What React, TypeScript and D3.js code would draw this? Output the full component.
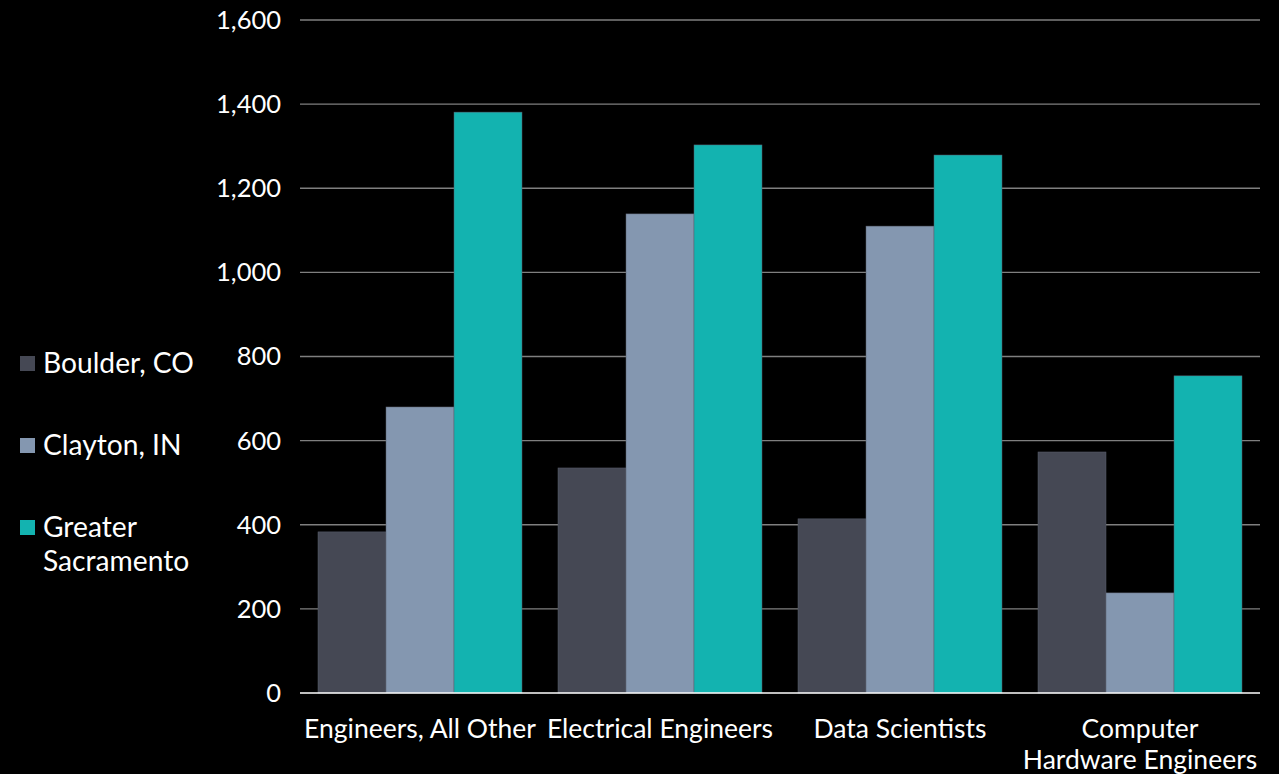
import React from "react";
import * as d3 from "d3";

const categories: string[][] = [
  ["Engineers, All Other"],
  ["Electrical Engineers"],
  ["Data Scientists"],
  ["Computer", "Hardware Engineers"],
];
const seriesNames: string[][] = [["Boulder, CO"], ["Clayton, IN"], ["Greater", "Sacramento"]];
const boulder = [383, 535, 414, 573];
const clayton = [680, 1139, 1110, 238];
const sacramento = [1381, 1303, 1279, 754];
const yTicks = [0, 200, 400, 600, 800, 1000, 1200, 1400, 1600];
const colors = ["#454854", "#8497b0", "#13b3b0"];

const W = 1279;
const H = 774;
const left = 300;
const right = 1260;
const top = 20;
const bottom = 693;
const font = "Lato, 'Open Sans', sans-serif";

export default function App() {
  const series = [boulder, clayton, sacramento];
  const keys = categories.map((c) => c.join(" "));
  const x = d3.scaleBand<string>().domain(keys).range([left, right]).paddingInner(0.15).paddingOuter(0.075);
  const xs = d3.scaleBand<number>().domain([0, 1, 2]).range([0, x.bandwidth()]);
  const y = d3.scaleLinear().domain([0, 1600]).range([bottom, top]);
  const fmt = d3.format(",");
  const legendY = [363, 445, 527];

  return (
    <svg
      width={W}
      height={H}
      style={{ position: "absolute", left: 0, top: 0, background: "#000", display: "block" }}
    >
      <rect x={0} y={0} width={W} height={H} fill="#000" />
      {yTicks.map((t) => (
        <g key={t}>
          {t > 0 && (
            <line x1={left} x2={right} y1={y(t)} y2={y(t)} stroke="#7f7f7f" strokeWidth={1.3} />
          )}
          <text
            x={281}
            y={y(t)}
            dy="0.35em"
            textAnchor="end"
            fill="#fff"
            fontFamily={font}
            fontSize={25.5}
          >
            {fmt(t)}
          </text>
        </g>
      ))}
      {keys.map((k, ci) =>
        series.map((s, si) => (
          <rect
            key={k + si}
            x={(x(k) as number) + (xs(si) as number)}
            y={y(s[ci])}
            width={xs.bandwidth()}
            height={bottom - y(s[ci])}
            fill={colors[si]}
            stroke="#5a5f6e"
            strokeWidth={0.5}
          />
        ))
      )}
      <line x1={left} x2={right} y1={bottom} y2={bottom} stroke="#fff" strokeWidth={1.5} />
      {categories.map((lines, ci) => (
        <text
          key={ci}
          x={(x(keys[ci]) as number) + x.bandwidth() / 2}
          y={729}
          textAnchor="middle"
          fill="#fff"
          fontFamily={font}
          fontSize={26.5}
        >
          {lines.map((l, li) => (
            <tspan key={li} x={(x(keys[ci]) as number) + x.bandwidth() / 2} dy={li === 0 ? "0.35em" : 30.5}>
              {l}
            </tspan>
          ))}
        </text>
      ))}
      {seriesNames.map((lines, si) => (
        <g key={si}>
          <rect x={20} y={legendY[si] - 7} width={15} height={15} fill={colors[si]} />
          <text x={43} y={legendY[si]} fill="#fff" fontFamily={font} fontSize={28.2}>
            {lines.map((l, li) => (
              <tspan key={li} x={43} dy={li === 0 ? "0.35em" : 34}>
                {l}
              </tspan>
            ))}
          </text>
        </g>
      ))}
    </svg>
  );
}
